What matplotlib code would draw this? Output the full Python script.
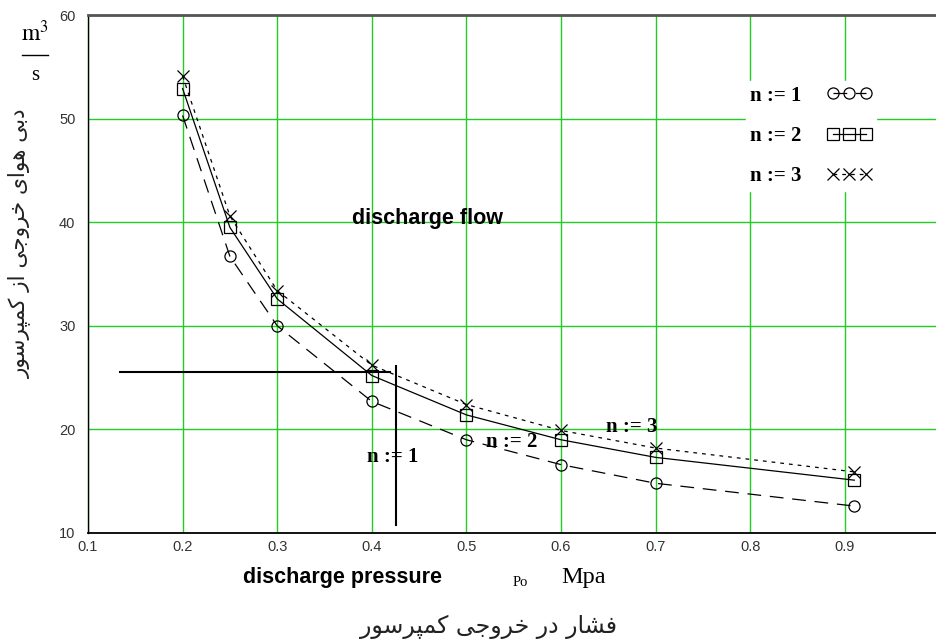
import matplotlib
matplotlib.use("Agg")
import matplotlib.pyplot as plt
from matplotlib import font_manager
from matplotlib.ft2font import FT2Font
from matplotlib.lines import Line2D

# ---------------- data ----------------
pressure = [0.2, 0.25, 0.3, 0.4, 0.5, 0.6, 0.7, 0.91]
flow_n1 = [50.3, 36.7, 30.0, 22.7, 19.0, 16.6, 14.8, 12.6]
flow_n2 = [52.9, 39.5, 32.6, 25.2, 21.4, 19.0, 17.3, 15.1]
flow_n3 = [54.1, 40.6, 33.4, 26.2, 22.4, 19.9, 18.2, 15.9]
series_labels = ["n := 1", "n := 2", "n := 3"]

x_ticks = [0.1, 0.2, 0.3, 0.4, 0.5, 0.6, 0.7, 0.8, 0.9]
x_ticklabels = ["0.1", "0.2", "0.3", "0.4", "0.5", "0.6", "0.7", "0.8", "0.9"]
y_ticks = [10, 20, 30, 40, 50, 60]
y_ticklabels = ["10", "20", "30", "40", "50", "60"]

# cursor lines (read-off helper lines)
cursor_h_x = [0.134, 0.419]
cursor_h_y = [25.5, 25.5]
cursor_v_x = [0.4256, 0.4256]
cursor_v_y = [26.1, 10.8]

ylabel_fa = "دبی هوای خروجی از کمپرسور"
xlabel_fa = "فشار در خروجی کمپرسور"

# ---------------- Persian shaping helper ----------------
FORMS = {
    '\u0627': ('\uFE8D', '\uFE8E', None, None),
    '\u0628': ('\uFE8F', '\uFE90', '\uFE91', '\uFE92'),
    '\u067E': ('\uFB56', '\uFB57', '\uFB58', '\uFB59'),
    '\u062C': ('\uFE9D', '\uFE9E', '\uFE9F', '\uFEA0'),
    '\u062E': ('\uFEA5', '\uFEA6', '\uFEA7', '\uFEA8'),
    '\u062F': ('\uFEA9', '\uFEAA', None, None),
    '\u0631': ('\uFEAD', '\uFEAE', None, None),
    '\u0632': ('\uFEAF', '\uFEB0', None, None),
    '\u0633': ('\uFEB1', '\uFEB2', '\uFEB3', '\uFEB4'),
    '\u0634': ('\uFEB5', '\uFEB6', '\uFEB7', '\uFEB8'),
    '\u0641': ('\uFED1', '\uFED2', '\uFED3', '\uFED4'),
    '\u06A9': ('\uFB8E', '\uFB8F', '\uFB90', '\uFB91'),
    '\u0645': ('\uFEE1', '\uFEE2', '\uFEE3', '\uFEE4'),
    '\u0647': ('\uFEE9', '\uFEEA', '\uFEEB', '\uFEEC'),
    '\u0648': ('\uFEED', '\uFEEE', None, None),
    '\u06CC': ('\uFBFC', '\uFBFD', '\uFBFE', '\uFBFF'),
}
FALLBACK = {
    '\u06A9': ('\uFED9', '\uFEDA', '\uFEDB', '\uFEDC'),
    '\u06CC': ('\uFEEF', '\uFEF0', '\uFEF3', '\uFEF4'),
    '\u067E': ('\uFE8F', '\uFE90', '\uFE91', '\uFE92'),
}
try:
    _cmap = FT2Font(font_manager.findfont("DejaVu Sans")).get_charmap()
    for k, v in FALLBACK.items():
        if any(ord(g) not in _cmap for g in FORMS[k]):
            FORMS[k] = v
except Exception:
    pass


def shape_rtl(text):
    out = []
    n = len(text)
    for i, c in enumerate(text):
        if c not in FORMS:
            out.append(c)
            continue
        prev = text[i - 1] if i > 0 else None
        nxt = text[i + 1] if i < n - 1 else None
        jp = prev in FORMS and FORMS[prev][2] is not None
        jn = FORMS[c][2] is not None and nxt in FORMS
        f = FORMS[c]
        if jp and jn:
            g = f[3]
        elif jp:
            g = f[1]
        elif jn:
            g = f[2]
        else:
            g = f[0]
        out.append(g)
    return "".join(out[::-1])


# ---------------- figure ----------------
W, H = 937, 643
fig = plt.figure(figsize=(W / 100, H / 100), dpi=100)
fig.patch.set_facecolor("white")

ax_l, ax_r, ax_t, ax_b = 88, 937, 15, 533
ax = fig.add_axes([ax_l / W, 1 - ax_b / H, (ax_r - ax_l) / W, (ax_b - ax_t) / H])
px_per_01 = 94.6
ax.set_xlim(0.1, 0.1 + (ax_r - ax_l) / px_per_01 * 0.1)
ax.set_ylim(10, 60)

ax.set_xticks(x_ticks)
ax.set_xticklabels(x_ticklabels)
ax.set_yticks(y_ticks)
ax.set_yticklabels(y_ticklabels)
ax.tick_params(axis="both", length=0, labelsize=10.5, labelcolor="#333333")
ax.tick_params(axis="x", pad=5)
ax.tick_params(axis="y", pad=9)
for lab in ax.get_xticklabels() + ax.get_yticklabels():
    lab.set_family("Liberation Sans")

ax.grid(True, color="#22cc22", linewidth=1.0)
ax.set_axisbelow(True)

ax.spines["right"].set_visible(False)
ax.spines["top"].set_color("#555555")
ax.spines["top"].set_linewidth(2.0)
ax.spines["left"].set_color("black")
ax.spines["left"].set_linewidth(1.0)
ax.spines["bottom"].set_color("black")
ax.spines["bottom"].set_linewidth(1.3)

mk = dict(markerfacecolor="none", markeredgecolor="black", markeredgewidth=0.9,
          markersize=8, color="black", linewidth=0.9, clip_on=False)
l1, = ax.plot(pressure, flow_n1, linestyle=(0, (11, 7)), marker="o", **mk)
l2, = ax.plot(pressure, flow_n2, linestyle="-", marker="s", **mk)
l3, = ax.plot(pressure, flow_n3, linestyle=(0, (3, 4)), marker="x", **mk)

# cursor lines
ax.plot(cursor_h_x, cursor_h_y, color="black", linewidth=1.5)
ax.plot(cursor_v_x, cursor_v_y, color="black", linewidth=1.5)

serif_b = dict(family="Liberation Serif", weight="bold", fontsize=15, color="black")
ax.text(0.395, 17.3, "n := 1", ha="left", va="center", **serif_b)
ax.text(0.521, 18.8, "n := 2", ha="left", va="center", **serif_b)
ax.text(0.648, 20.2, "n := 3", ha="left", va="center", **serif_b)

ax.text(0.379, 40.4, "discharge flow", ha="left", va="center",
        family="Liberation Sans", weight="bold", fontsize=15.5, color="black")

leg = ax.legend([l1, l2, l3], series_labels, loc="center",
                bbox_to_anchor=((811 - ax_l) / (ax_r - ax_l), (ax_b - 136) / (ax_b - ax_t)),
                markerfirst=False, numpoints=3, handlelength=2.2, handletextpad=1.2,
                labelspacing=0.98, borderpad=0.2, frameon=True, fancybox=False,
                prop=dict(family="Liberation Serif", weight="bold", size=15))
leg.get_frame().set_facecolor("white")
leg.get_frame().set_edgecolor("white")
leg.get_frame().set_alpha(1.0)

# y-axis unit m^3/s
fig.text(35 / W, 1 - 33 / H, r"$\mathrm{m}^{3}$",
         ha="center", va="center", fontsize=17, math_fontfamily="stix")
fig.add_artist(Line2D([22 / W, 48 / W], [1 - 55 / H, 1 - 55 / H],
                      transform=fig.transFigure, color="black", linewidth=1.0))
fig.text(35 / W, 1 - 76 / H, "s", ha="center", va="center",
         family="Liberation Serif", fontsize=15, color="black")

# Persian y label
fig.text(19 / W, 1 - 243 / H, shape_rtl(ylabel_fa), rotation=90,
         ha="center", va="center", family="DejaVu Sans", fontsize=15.5, color="#222222")

# below-axis texts
fig.text(243 / W, 1 - 578 / H, "discharge pressure", ha="left", va="center",
         family="Liberation Sans", weight="bold", fontsize=15.5, color="black")
fig.text(513 / W, 1 - 582 / H, "Po", ha="left", va="center",
         family="Liberation Serif", fontsize=10.5, color="black")
fig.text(561 / W, 1 - 577 / H, "Mpa", ha="left", va="center",
         family="Liberation Serif", fontsize=17.5, color="black")
fig.text(489 / W, 1 - 627 / H, shape_rtl(xlabel_fa), ha="center", va="center",
         family="DejaVu Sans", fontsize=17, color="#222222")

fig.savefig("out.png", dpi=100, facecolor="white")
